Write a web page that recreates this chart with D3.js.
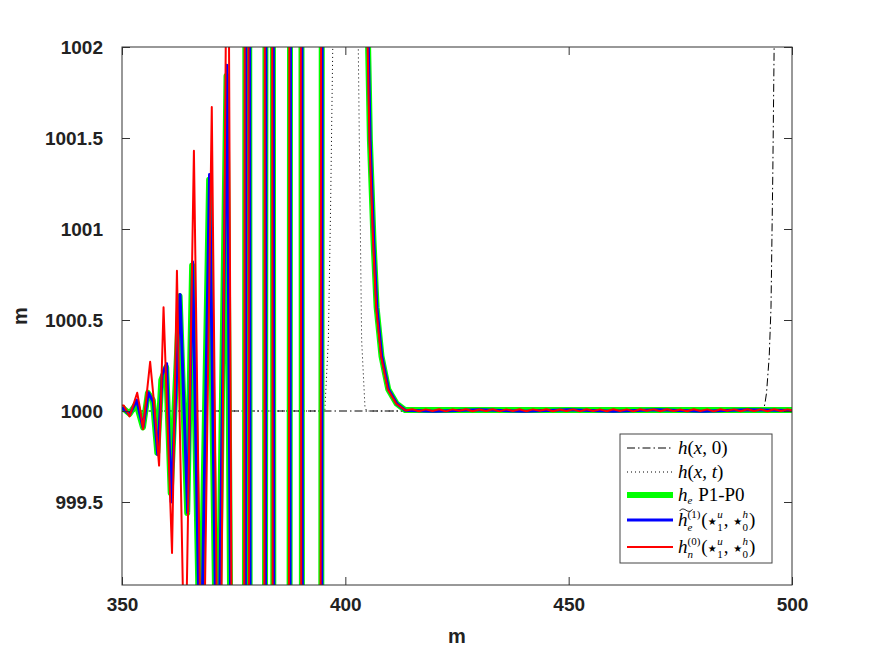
<!DOCTYPE html>
<html>
<head>
<meta charset="utf-8">
<script src="https://cdn.jsdelivr.net/npm/d3@7"></script>
<style>
  body { margin: 0; background: #fff; }
  svg { display: block; }
</style>
</head>
<body>
<div id="chart"></div>
<script>
// ticks
const xTicks = [350, 400, 450, 500];
const yTicks = [999.5, 1000, 1000.5, 1001, 1001.5, 1002];

// h(x,0): initial state
const hInit = [[350, 1000], [493.6, 1000], [494.0, 1000.05], [494.3, 1000.1], [494.9, 1000.3],
  [495.3, 1000.57], [495.7, 1001.3], [496.0, 1002.0], [496.5, 1003]];

// h(x,t): reference solution
const hNow = [[350, 1000], [395.4, 1000], [396.2, 1000.39], [396.7, 1001.12], [397.0, 1001.67],
  [397.3, 1002.2], [400, 1003.5], [402.7, 1002.2], [402.9, 1002.0], [403.3, 1001.12],
  [403.65, 1000.39], [404.4, 1000.02], [404.8, 1000], [500, 1000]];

// h_e P1-P0
const heP1P0 = [[350.0, 1000.02], [351.7, 999.985], [353.2, 1000.04], [354.7, 999.91], [355.8, 1000.10],
  [356.9, 1000.06], [357.9, 999.77], [358.8, 1000.17], [359.9, 1000.24], [360.9, 999.55],
  [362.9, 1000.63], [364.6, 999.44], [365.7, 1000.80], [367.5, 998.5], [369.5, 1001.27],
  [371.3, 998.2], [373.4, 1001.84], [375.3, 995], [377.4, 995], [377.8, 1008], [378.3, 1008],
  [378.7, 995], [381.9, 995], [382.3, 1008], [383.6, 1008], [384.0, 995], [387.4, 995],
  [387.8, 1008], [390.0, 1008], [390.4, 995], [394.5, 995], [394.9, 1008], [404.9, 1008],
  [405.1, 1002.0], [405.5, 1001.49], [406.3, 1000.94], [407.0, 1000.57], [408.1, 1000.30],
  [409.6, 1000.12], [411.5, 1000.04], [413.4, 1000.005], [500, 1000.005]];

// tilde h_e^(1)
const heTilde = [[350.0, 1000.02], [351.7, 999.98], [353.3, 1000.06], [354.7, 999.91], [355.9, 1000.10],
  [357.0, 1000.05], [358.0, 999.76], [359.0, 1000.20], [360.0, 1000.26], [361.0, 999.50],
  [363.0, 1000.64], [364.7, 999.44], [365.8, 1000.82], [367.6, 998.4], [369.6, 1001.30],
  [371.4, 998.1], [373.5, 1001.90], [375.4, 995], [377.5, 995], [377.9, 1008], [378.4, 1008],
  [378.8, 995], [382.0, 995], [382.4, 1008], [383.7, 1008], [384.1, 995], [387.5, 995],
  [387.9, 1008], [390.1, 1008], [390.5, 995], [394.6, 995], [395.0, 1008], [404.95, 1008],
  [405.15, 1002.0], [405.55, 1001.49], [406.35, 1000.94], [407.05, 1000.57], [408.15, 1000.30],
  [409.65, 1000.12], [411.55, 1000.04], [413.4, 1000.004], [420, 999.999], [430, 1000.007],
  [440, 999.999], [450, 1000.007], [460, 999.999], [470, 1000.007], [480, 999.999],
  [490, 1000.007], [500, 1000.003]];

// h_n^(0)
const hnHead = [[350.0, 1000.03], [350.4, 1000.03], [351.7, 999.97], [353.4, 1000.10], [354.0, 1000.02],
  [354.7, 999.90], [356.3, 1000.27], [357.2, 1000.04], [358.3, 999.70], [359.3, 1000.57],
  [361.2, 999.22], [362.3, 1000.77], [364.1, 998.4], [366.1, 1001.43], [368.0, 998.0],
  [370.1, 1001.67], [371.8, 997.5], [373.7, 1003.5], [375.2, 995], [377.25, 995], [377.65, 1008],
  [378.15, 1008], [378.55, 995], [381.75, 995], [382.15, 1008], [383.45, 1008], [383.85, 995],
  [387.25, 995], [387.65, 1008], [389.85, 1008], [390.25, 995], [394.35, 995], [394.75, 1008],
  [404.8, 1008], [405.0, 1002.0], [405.4, 1001.49], [406.2, 1000.94], [406.9, 1000.57],
  [408.0, 1000.30], [409.5, 1000.12], [411.4, 1000.04]];
const hnTail = [[413.5, 1000.003], [415, 1000.010], [416.5, 999.999], [418, 1000.009], [419.5, 1000.000],
  [421, 1000.010], [422.5, 999.998], [424, 1000.009], [425.5, 1000.001], [427, 1000.010],
  [428.5, 999.999], [430, 1000.008], [431.5, 1000.000], [433, 1000.010], [434.5, 999.998],
  [436, 1000.009], [437.5, 1000.000], [439, 1000.010], [440.5, 999.999], [442, 1000.009],
  [443.5, 1000.001], [445, 1000.010], [446.5, 999.999], [448, 1000.008], [449.5, 1000.000],
  [451, 1000.009], [452.5, 999.998], [454, 1000.010], [455.5, 1000.000], [457, 1000.009],
  [458.5, 999.999], [460, 1000.010], [461.5, 1000.000], [463, 1000.009], [464.5, 999.998],
  [466, 1000.010], [467.5, 1000.001], [469, 1000.009], [470.5, 999.999], [472, 1000.010],
  [473.5, 1000.000], [475, 1000.008], [476.5, 999.999], [478, 1000.010], [479.5, 1000.000],
  [481, 1000.009], [482.5, 999.998], [484, 1000.010], [485.5, 1000.001], [487, 1000.009],
  [488.5, 999.999], [490, 1000.010], [491.5, 1000.000], [493, 1000.009], [494.5, 999.999],
  [496, 1000.010], [497.5, 1000.000], [499, 1000.009], [500, 1000.004]];
const hnZero = hnHead.concat(hnTail);

const W = 875, H = 657;
const margin = { top: 47, right: 83, bottom: 72, left: 122 },
      width = W - margin.left - margin.right,
      height = H - margin.top - margin.bottom;

const svg = d3.select("#chart").append("svg")
  .attr("width", W).attr("height", H);

const g = svg.append("g").attr("transform", `translate(${margin.left},${margin.top})`);

const x = d3.scaleLinear().domain([350, 500]).range([0, width]);
const y = d3.scaleLinear().domain([999.044, 1002]).range([height, 0]);

g.append("clipPath").attr("id", "clip")
  .append("rect").attr("width", width).attr("height", height);

const line = d3.line().x(d => x(d[0])).y(d => y(d[1]));
const plot = g.append("g").attr("clip-path", "url(#clip)");

// series, plot order
const series = [
  { data: hInit, color: "#000", w: 1, dash: "8,3,1.5,3" },
  { data: hNow, color: "#000", w: 1, dash: "1,3" },
  { data: heP1P0, color: "#00ff00", w: 6, dash: null },
  { data: heTilde, color: "#0000ff", w: 3, dash: null },
  { data: hnZero, color: "#ff0000", w: 2, dash: null }
];

series.forEach(s => {
  plot.append("path")
    .datum(s.data)
    .attr("d", line)
    .attr("fill", "none")
    .attr("stroke", s.color)
    .attr("stroke-width", s.w)
    .attr("stroke-linejoin", "round")
    .attr("stroke-dasharray", s.dash);
});

// Ejes (ticks hacia dentro en los cuatro lados)
const tickFont = "'Liberation Sans', Arial, sans-serif";
const axisColor = "#333";

const xAxis = g.append("g").attr("transform", `translate(0,${height})`)
  .call(d3.axisBottom(x).tickValues(xTicks).tickSize(-8).tickPadding(13).tickFormat(d3.format("d")));
const yAxis = g.append("g")
  .call(d3.axisLeft(y).tickValues(yTicks).tickSize(-8).tickPadding(19).tickFormat(d => d));
g.append("g").call(d3.axisTop(x).tickValues(xTicks).tickSize(-8).tickFormat(""));
g.append("g").attr("transform", `translate(${width},0)`)
  .call(d3.axisRight(y).tickValues(yTicks).tickSize(-8).tickFormat(""));

g.selectAll(".domain").remove();
g.selectAll(".tick line").attr("stroke", axisColor);
[xAxis, yAxis].forEach(a => a.selectAll("text")
  .attr("fill", "#222")
  .style("font-family", tickFont)
  .style("font-weight", "bold")
  .style("font-size", "19px"));

g.append("rect")
  .attr("width", width).attr("height", height)
  .attr("fill", "none").attr("stroke", axisColor).attr("stroke-width", 1);

// Etiquetas
g.append("text")
  .attr("x", width / 2).attr("y", height + 58)
  .attr("text-anchor", "middle").attr("fill", "#222")
  .style("font-family", tickFont).style("font-weight", "bold").style("font-size", "20px")
  .text("m");

g.append("text")
  .attr("transform", "rotate(-90)")
  .attr("x", -height / 2).attr("y", -95)
  .attr("text-anchor", "middle").attr("fill", "#222")
  .style("font-family", tickFont).style("font-weight", "bold").style("font-size", "20px")
  .text("m");

// Leyenda
const lg = svg.append("g").attr("transform", "translate(620,434)");
lg.append("rect").attr("width", 152).attr("height", 129)
  .attr("fill", "#fff").attr("stroke", "#444").attr("stroke-width", 1);

const mathFont = "'Liberation Serif', 'DejaVu Serif', serif";
const NB = "\u00a0";

function mathText(parent, x0, y0, tokens) {
  let cx = x0;
  tokens.forEach(tok => {
    if (tok.sub !== undefined || tok.sup !== undefined) {
      let w = 0;
      if (tok.sup !== undefined) {
        const t = parent.append("text").attr("x", cx).attr("y", y0 - 8)
          .style("font-family", mathFont).style("font-size", "11px")
          .style("font-style", tok.supIt ? "italic" : "normal").text(tok.sup);
        w = Math.max(w, t.node().getComputedTextLength());
      }
      if (tok.sub !== undefined) {
        const t = parent.append("text").attr("x", cx).attr("y", y0 + (tok.sup !== undefined ? 5 : 3))
          .style("font-family", mathFont).style("font-size", "11px")
          .style("font-style", tok.subIt ? "italic" : "normal").text(tok.sub);
        w = Math.max(w, t.node().getComputedTextLength());
      }
      cx += w + 1;
    } else {
      const t = parent.append("text").attr("x", cx).attr("y", y0 - (tok.star ? 1 : 0))
        .style("font-family", tok.star ? "'DejaVu Sans', sans-serif" : mathFont)
        .style("font-size", tok.star ? "10px" : "19px")
        .style("font-style", tok.it ? "italic" : "normal").text(tok.t);
      cx += t.node().getComputedTextLength() + (tok.pad || 0);
    }
  });
  return cx;
}

const stars = [{ t: "(" },
  { t: "★", star: true, pad: 0.5 }, { sub: "1", sup: "u", supIt: true }, { t: "," + NB },
  { t: "★", star: true, pad: 0.5 }, { sub: "0", sup: "h", supIt: true }, { t: ")" }];

const legendRows = [
  { y: 14, s: series[0], tokens: [{ t: "h", it: true }, { t: "(" }, { t: "x", it: true }, { t: "," + NB + "0)" }] },
  { y: 38, s: series[1], tokens: [{ t: "h", it: true }, { t: "(" }, { t: "x", it: true }, { t: "," + NB }, { t: "t", it: true }, { t: ")" }] },
  { y: 61, s: series[2], tokens: [{ t: "h", it: true }, { sub: "e", subIt: true }, { t: NB + "P1-P0" }] },
  { y: 86, s: series[3], tilde: true, tokens: [{ t: "h", it: true }, { sub: "e", subIt: true, sup: "(1)" }].concat(stars) },
  { y: 113, s: series[4], tokens: [{ t: "h", it: true }, { sub: "n", subIt: true, sup: "(0)" }].concat(stars) }
];

legendRows.forEach(r => {
  lg.append("line")
    .attr("x1", 7).attr("x2", 53).attr("y1", r.y).attr("y2", r.y)
    .attr("stroke", r.s.color)
    .attr("stroke-width", r.s.w)
    .attr("stroke-dasharray", r.s.dash);
  const tg = lg.append("g").attr("fill", "#000");
  mathText(tg, 58, r.y + 6, r.tokens);
  if (r.tilde) {
    tg.append("path")
      .attr("d", `M59.5,${r.y - 9} c2,-2.5 4,-2.5 6.5,-0.8 s4.5,1.7 6.5,-0.8`)
      .attr("fill", "none").attr("stroke", "#000").attr("stroke-width", 0.9);
  }
});
</script>
</body>
</html>
